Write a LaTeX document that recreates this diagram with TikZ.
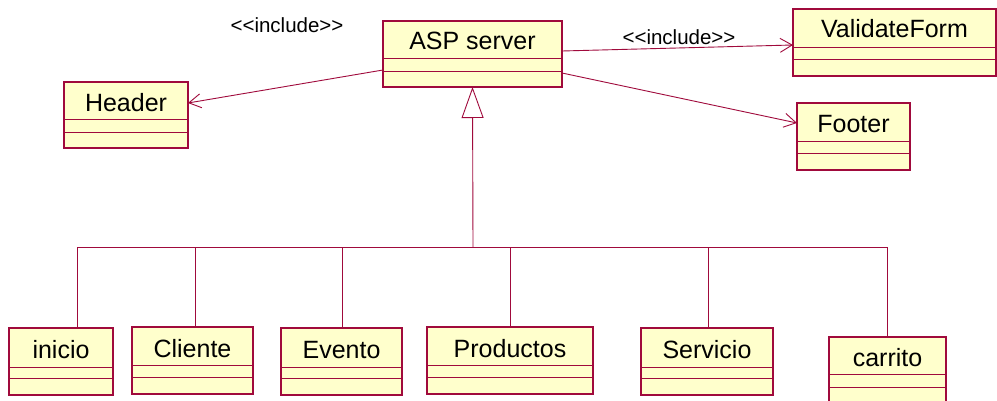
\documentclass[tikz,border=0pt]{standalone}
\usepackage{fontspec}
\newfontfamily\arialf{Liberation Sans}
\usetikzlibrary{arrows.meta}
\definecolor{roseline}{RGB}{160,10,60}
\definecolor{rosefill}{RGB}{255,255,204}
\tikzset{
  clsbox/.style={draw=roseline, fill=rosefill, line width=1.1pt, inner sep=0pt, outer sep=0pt},
  clsdiv/.style={draw=roseline, line width=0.9pt},
  clstext/.style={font=\arialf\fontsize{25}{29}\selectfont, anchor=base, inner sep=0pt},
  lbltext/.style={font=\arialf\fontsize{20.5}{24}\selectfont, anchor=base, inner sep=0pt},
  conn/.style={draw=roseline, line width=0.9pt},
  incl/.style={conn, -{Straight Barb[length=12pt, width=14pt, line width=0.9pt]}},
  gen/.style={conn, -{Triangle[open, length=31pt, width=22pt, line width=0.9pt, fill=white]}}
}
% name, x1, y1, x2, y2, divider1, divider2, baseline, text
\newcommand\umlcls[9]{%
  \node[clsbox, minimum width={#4-#2}, minimum height={#5-#3}] (#1) at ({(#2+#4)/2},{(#3+#5)/2}) {};
  \draw[clsdiv] (#2,#6) -- (#4,#6);
  \draw[clsdiv] (#2,#7) -- (#4,#7);
  \node[clstext] (#1-t) at ({(#2+#4)/2},#8) {#9};
}
\begin{document}
\begin{tikzpicture}[x=1pt, y=-1pt]
\clip (0,0) rectangle (997,401);
\fill[white] (0,0) rectangle (997,401);

\umlcls{asp}{383}{21}{562}{87}{58}{71}{50}{ASP server}
\umlcls{header}{64}{82}{188}{148}{119}{132}{112}{Header}
\umlcls{vf}{793}{9}{996}{76}{47}{59}{38}{ValidateForm}
\umlcls{footer}{797}{103}{910}{170}{141}{153}{133}{Footer}

\umlcls{inicio}{9}{328}{113}{395}{367}{378}{358}{inicio}
\umlcls{cliente}{132}{327}{253}{394}{365}{377}{357}{Cliente}
\umlcls{evento}{281}{328}{402}{395}{367}{378}{358}{Evento}
\umlcls{productos}{427}{327}{593}{394}{365}{377}{357}{Productos}
\umlcls{servicio}{641}{328}{773}{395}{367}{378}{358}{Servicio}
\umlcls{carrito}{829}{337}{946}{410}{374}{387}{366}{carrito}

% include dependencies
\draw[incl] (asp.west |- 0,70) -- (header.east |- 0,103);
\draw[incl] (asp.east |- 0,51) -- (vf.west |- 0,45);
\draw[incl] (asp.east |- 0,73) -- (footer.west |- 0,123);
\node[lbltext] (lab1) at (287,33) {<<include>>};
\node[lbltext] (lab2) at (679,45) {<<include>>};

% generalization
\coordinate (bus) at (473,247);
\draw[gen] (bus) -- (asp.south);
\draw[conn] (inicio.north -| 77,0) -- (77,247) -- (carrito.north |- 0,247) -- (carrito.north);
\draw[conn] (cliente.north -| 195,0) -- (195,247);
\draw[conn] (evento.north -| 342,0) -- (342,247);
\draw[conn] (productos.north) -- (productos.north |- 0,247);
\draw[conn] (servicio.north -| 708,0) -- (708,247);
\end{tikzpicture}
\end{document}
